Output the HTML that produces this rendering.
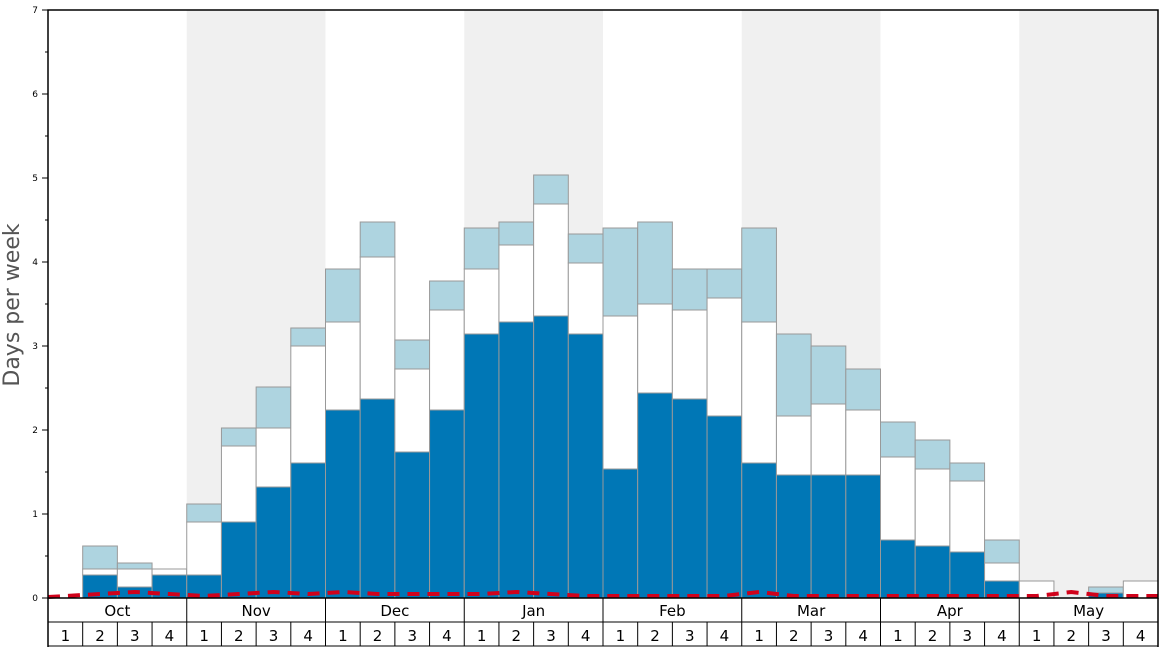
<!DOCTYPE html>
<html><head><meta charset="utf-8"><style>html,body{margin:0;padding:0;background:#fff}svg{display:block}</style></head>
<body>
<svg id="s" width="1168" height="648" xmlns="http://www.w3.org/2000/svg" font-family="DejaVu Sans, Liberation Sans, sans-serif"></svg>
<script>
const s=document.getElementById('s');
const X0=48,X1=1158,W=(X1-X0)/32,B=598,T=10;
let h='';
h+=`<rect x="0" y="0" width="1168" height="648" fill="#fff"/>`;
[1,3,5,7].forEach(m=>{h+=`<rect x="${X0+m*4*W}" y="${T}" width="${4*W}" height="${B-T}" fill="#f0f0f0"/>`;});
const d=[null,[575,569,546],[587,569,563],[575,569,null],[575,522,504],[522,446,428],[487,428,387],[463,346,328],
[410,322,269],[399,257,222],[452,369,340],[410,310,281],[334,269,228],[322,245,222],[316,204,175],[334,263,234],
[469,316,228],[393,304,222],[399,310,269],[416,298,269],[463,322,228],[475,416,334],[475,404,346],[475,410,369],
[540,457,422],[546,469,440],[552,481,463],[581,563,540],[null,581,null],null,[593,null,587],[null,581,null]];
d.forEach((v,i)=>{if(!v)return;const x=X0+i*W;
 let [dk,wh,lb]=v;
 if(lb!=null){const lo=wh!=null?wh:dk;h+=`<rect x="${x}" y="${lb}" width="${W}" height="${lo-lb}" fill="#aed4e0" stroke="#999" stroke-width="1"/>`;}
 if(wh!=null){const lo=dk!=null?dk:B;h+=`<rect x="${x}" y="${wh}" width="${W}" height="${lo-wh}" fill="#fff" stroke="#999" stroke-width="1"/>`;}
 if(dk!=null){h+=`<rect x="${x}" y="${dk}" width="${W}" height="${B-dk}" fill="#0077b6" stroke="#999" stroke-width="1"/>`;}
});
// red dashed
let pts=[];const ry=[596,594,592,594,596,594,592,594,592,594,594,594,594,592,594,596,596,596,596,596,592,596,596,596,596,596,596,596,596,592,596,596];
pts.push(`${X0},597`);ry.forEach((y,i)=>pts.push(`${X0+(i+0.5)*W},${y}`));pts.push(`${X1},596`);
h+=`<polyline points="${pts.join(' ')}" fill="none" stroke="#d0021b" stroke-width="4" stroke-dasharray="12,8"/>`;
// axes
h+=`<rect x="${X0}" y="${T}" width="${X1-X0}" height="${B-T}" fill="none" stroke="#000" stroke-width="1.5"/>`;
for(let k=0;k<=14;k++){const y=B-k*42;const big=k%2==0;h+=`<line x1="${X0-(big?6:3)}" x2="${X0}" y1="${y}" y2="${y}" stroke="#000"/>`;
 if(big)h+=`<text x="38" y="${y+3}" font-size="9" text-anchor="end">${k/2}</text>`;}
h+=`<text transform="translate(19,305) rotate(-90)" font-size="22" fill="#555" text-anchor="middle">Days per week</text>`;
// bottom labels
h+=`<line x1="${X0}" x2="${X1}" y1="622" y2="622" stroke="#000"/><line x1="${X0}" x2="${X1}" y1="646" y2="646" stroke="#000"/>`;
h+=`<line x1="${X0}" x2="${X0}" y1="598" y2="647" stroke="#000" stroke-width="1.5"/><line x1="${X1}" x2="${X1}" y1="598" y2="647" stroke="#000" stroke-width="1.5"/>`;
const M=['Oct','Nov','Dec','Jan','Feb','Mar','Apr','May'];
M.forEach((m,i)=>{const x=X0+i*4*W;if(i>0)h+=`<line x1="${x}" x2="${x}" y1="598" y2="646" stroke="#000"/>`;
 h+=`<text x="${x+2*W}" y="616" font-size="15" text-anchor="middle">${m}</text>`;});
for(let i=0;i<32;i++){const x=X0+i*W;if(i%4)h+=`<line x1="${x}" x2="${x}" y1="622" y2="646" stroke="#000"/>`;
 h+=`<text x="${x+W/2}" y="641" font-size="15" text-anchor="middle">${i%4+1}</text>`;}
s.innerHTML=h;
</script>
</body></html>
